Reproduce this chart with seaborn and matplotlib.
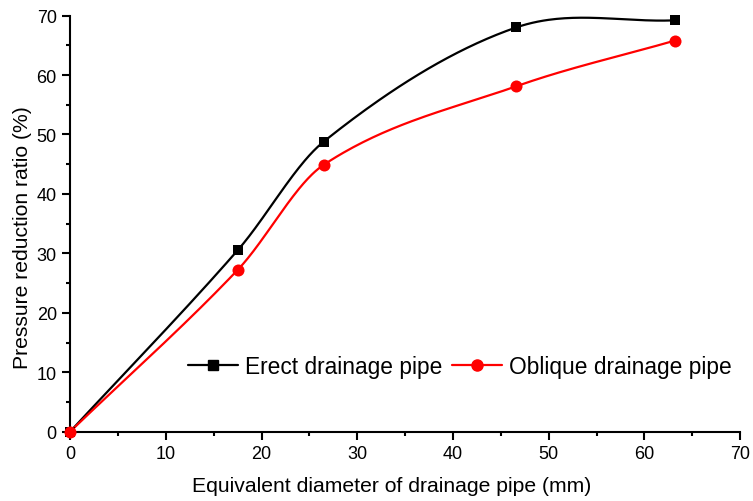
import numpy as np
import pandas as pd
import matplotlib
matplotlib.use("Agg")
import matplotlib.pyplot as plt
import seaborn as sns
from matplotlib.lines import Line2D
from matplotlib.ticker import MultipleLocator

# data
diameter = [0.0, 17.5, 26.5, 46.6, 63.2]
erect = [0.0, 30.5, 48.8, 68.0, 69.2]
oblique = [0.0, 27.2, 44.9, 58.1, 65.8]
labels = ["Erect drainage pipe", "Oblique drainage pipe"]
colors = ["black", "red"]
markers = ["s", "o"]


def smooth_curve(x, y, n=60):
    """Catmull-Rom style hermite spline through the points (smooth connect line)."""
    x = np.asarray(x, float)
    y = np.asarray(y, float)
    k = len(x)
    m = np.zeros(k)
    m[0] = (y[1] - y[0]) / (x[1] - x[0])
    m[-1] = (y[-1] - y[-2]) / (x[-1] - x[-2])
    for i in range(1, k - 1):
        m[i] = (y[i + 1] - y[i - 1]) / (x[i + 1] - x[i - 1])
    xs_all, ys_all = [], []
    for i in range(k - 1):
        h = x[i + 1] - x[i]
        t = np.linspace(0, 1, n)
        h00 = 2 * t ** 3 - 3 * t ** 2 + 1
        h10 = t ** 3 - 2 * t ** 2 + t
        h01 = -2 * t ** 3 + 3 * t ** 2
        h11 = t ** 3 - t ** 2
        xs_all.append(x[i] + t * h)
        ys_all.append(h00 * y[i] + h10 * h * m[i] + h01 * y[i + 1] + h11 * h * m[i + 1])
    return np.concatenate(xs_all), np.concatenate(ys_all)


sns.set_style("ticks", {"text.color": "black", "axes.labelcolor": "black",
                        "xtick.color": "black", "ytick.color": "black",
                        "axes.edgecolor": "black"})
plt.rcParams['font.family'] = ['Liberation Sans', 'DejaVu Sans']

fig = plt.figure(figsize=(7.53, 5.02), dpi=100)
ax = fig.add_axes([0.093, 0.138, 0.89, 0.829])

handles = []
for series, lab, col, mk in zip([erect, oblique], labels, colors, markers):
    xs, ys = smooth_curve(diameter, series)
    curve = pd.DataFrame({"x": xs, "y": ys})
    sns.lineplot(data=curve, x="x", y="y", color=col, linewidth=1.6,
                 ax=ax, legend=False, sort=False, zorder=2)
    pts = pd.DataFrame({"x": diameter, "y": series})
    sns.scatterplot(data=pts, x="x", y="y", color=col, marker=mk,
                    s=62 if mk == "s" else 75, edgecolor=col, linewidth=0,
                    ax=ax, legend=False, zorder=3, clip_on=False)
    handles.append(Line2D([], [], color=col, marker=mk, linewidth=1.6,
                          markersize=7 if mk == "s" else 8, label=lab))

ax.set_xlim(0, 70)
ax.set_ylim(0, 70)
ax.xaxis.set_major_locator(MultipleLocator(10))
ax.xaxis.set_minor_locator(MultipleLocator(5))
ax.yaxis.set_major_locator(MultipleLocator(10))
ax.yaxis.set_minor_locator(MultipleLocator(5))
ax.tick_params(which="major", direction="out", length=6, width=1.5, labelsize=13,
               color="black", labelcolor="black")
ax.tick_params(which="minor", direction="out", length=3, width=1.5, color="black")
for side in ["top", "right"]:
    ax.spines[side].set_visible(False)
for side in ["left", "bottom"]:
    ax.spines[side].set_linewidth(1.5)
    ax.spines[side].set_color("black")

ax.set_xlabel("Equivalent diameter of drainage pipe (mm)", fontsize=15.2, labelpad=10, color="black")
ax.set_ylabel("Pressure reduction ratio (%)", fontsize=15.2, labelpad=3.5, color="black")
ax.xaxis.label.set_x(0.48)
ax.yaxis.label.set_y(0.468)

ax.legend(handles=handles, loc="center", bbox_to_anchor=(0.582, 0.157), ncol=2,
          frameon=False, fontsize=16.4, handlelength=2.2, handletextpad=0.32,
          columnspacing=0.4, borderpad=0.2, labelcolor="black")

fig.savefig("out.png", dpi=100)
